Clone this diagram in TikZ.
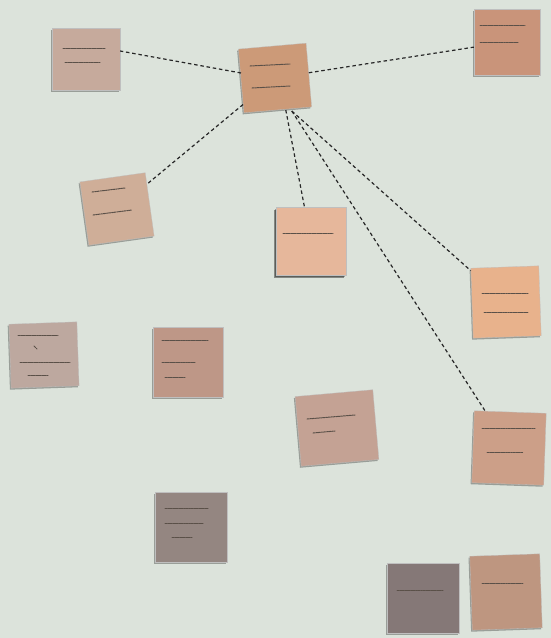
\documentclass[tikz,border=0pt]{standalone}
\usetikzlibrary{shadows}
\definecolor{wall}{HTML}{DCE3DB}
\definecolor{cA}{HTML}{C6AA9C}
\definecolor{cHub}{HTML}{CC9A78}
\definecolor{cB}{HTML}{C9947A}
\definecolor{cC}{HTML}{CFAE98}
\definecolor{cD}{HTML}{E6B79B}
\definecolor{cE}{HTML}{E8B28C}
\definecolor{cF}{HTML}{BDA89F}
\definecolor{cG}{HTML}{BE9787}
\definecolor{cH}{HTML}{C4A294}
\definecolor{cI}{HTML}{CC9F88}
\definecolor{cJ}{HTML}{948681}
\definecolor{cK}{HTML}{857877}
\definecolor{cL}{HTML}{BE9680}
\definecolor{ink}{HTML}{5A5048}
\tikzset{
  note/.style={rectangle, inner sep=0pt, draw=black!25, line width=0.3pt,
    drop shadow={shadow xshift=-1.2pt, shadow yshift=-1.5pt, fill=black, opacity=0.3}},
  link/.style={draw=black!85, line width=1.2pt, dash pattern=on 3.5pt off 2.8pt},
  scrib/.style={draw=ink, line width=1pt, dash pattern=on 2.2pt off 1pt on 1.2pt off 0.8pt, line cap=round}
}
\begin{document}
\begin{tikzpicture}[x=1pt,y=-1pt]
\fill[wall] (0,0) rectangle (551,638);
\useasboundingbox (0,0) rectangle (551,638);

\node[note, fill=cA, minimum width=68pt, minimum height=62pt] (n1) at (86,59) {};
\node[note, fill=cHub, minimum width=68pt, minimum height=64pt, rotate=5] (hub) at (275,78) {};
\node[note, fill=cB, minimum width=66pt, minimum height=66pt] (n3) at (507,42) {};
\node[note, fill=cC, minimum width=66pt, minimum height=64pt, rotate=8] (n4) at (117,209) {};
\node[note, fill=cD, minimum width=70pt, minimum height=68pt,
  drop shadow={shadow xshift=-2pt, shadow yshift=-2.5pt, fill=black, opacity=0.4}] (n5) at (311,241) {};
\node[note, fill=cE, minimum width=68pt, minimum height=70pt, rotate=2] (n6) at (506,302) {};
\node[note, fill=cF, minimum width=68pt, minimum height=64pt, rotate=2] (n7) at (44,355) {};
\node[note, fill=cG, minimum width=70pt, minimum height=70pt] (n8) at (188,362) {};
\node[note, fill=cH, minimum width=78pt, minimum height=70pt, rotate=5] (n9) at (337,428) {};
\node[note, fill=cI, minimum width=72pt, minimum height=72pt, rotate=-2] (n10) at (509,448) {};
\node[note, fill=cJ, minimum width=72pt, minimum height=70pt] (n11) at (191,527) {};
\node[note, fill=cK, minimum width=72pt, minimum height=70pt] (n12) at (423,598) {};
\node[note, fill=cL, minimum width=70pt, minimum height=74pt, rotate=2] (n13) at (506,592) {};

% connectors
\coordinate (h1) at ([yshift=8pt]hub.west);
\draw[link] (h1) -- ([yshift=8pt]n1.east);
\draw[link] (hub) -- (n3);
\draw[link] (hub) -- (n4);
\coordinate (h5) at ([xshift=8pt]hub.south);
\draw[link] (h5) -- (n5);
\coordinate (h6) at ([xshift=14pt,yshift=-1pt]hub.south);
\draw[link] (h6) -- (n6);
\draw[link] (h6) -- (n10);

% illegible handwriting marks
\draw[scrib] (63,48) -- (105,48); \draw[scrib] (65,62) -- (100,62);
\draw[scrib] (250,66) -- (290,64); \draw[scrib] (252,88) -- (290,86);
\draw[scrib] (480,25) -- (525,25); \draw[scrib] (480,42) -- (518,42);
\draw[scrib] (92,192) -- (125,188); \draw[scrib] (93,215) -- (132,210);
\draw[scrib] (283,233) -- (333,233);
\draw[scrib] (482,293) -- (528,293); \draw[scrib] (484,312) -- (528,312);
\draw[scrib] (18,335) -- (58,335); \draw[scrib] (34,346) -- (37,349);
\draw[scrib] (20,362) -- (70,362); \draw[scrib] (28,375) -- (48,375);
\draw[scrib] (162,340) -- (208,340); \draw[scrib] (162,362) -- (195,362); \draw[scrib] (165,377) -- (185,377);
\draw[scrib] (307,419) -- (355,415); \draw[scrib] (313,433) -- (335,431);
\draw[scrib] (482,428) -- (535,428); \draw[scrib] (487,452) -- (523,452);
\draw[scrib] (165,508) -- (208,508); \draw[scrib] (165,523) -- (203,523); \draw[scrib] (172,537) -- (192,537);
\draw[scrib] (397,590) -- (443,590);
\draw[scrib] (482,583) -- (523,583);
\end{tikzpicture}
\end{document}
